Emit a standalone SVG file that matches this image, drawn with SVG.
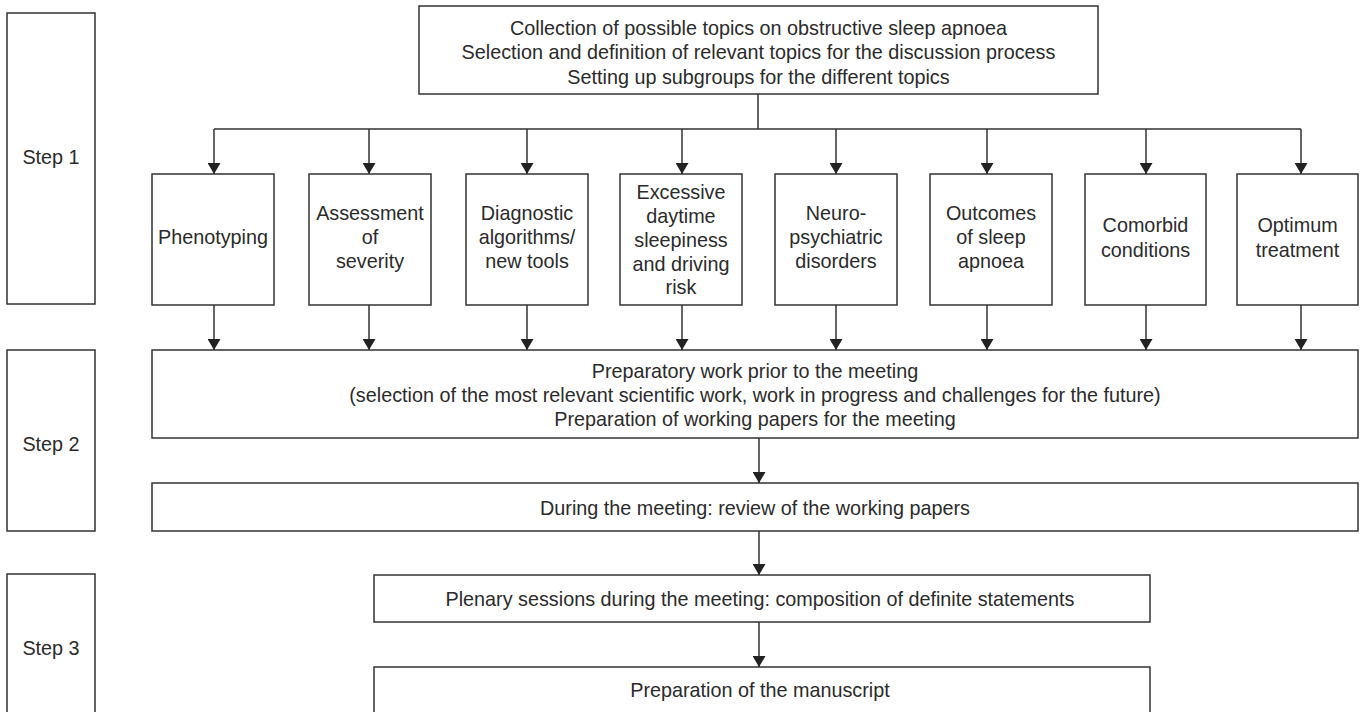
<svg xmlns="http://www.w3.org/2000/svg" width="1365" height="712" viewBox="0 0 1365 712">
<style>
.box{fill:#fff;stroke:#333;stroke-width:1.5}
.t{font-family:"Liberation Sans",Arial,sans-serif;font-size:19.8px;fill:#2b2b2b;text-anchor:middle}
.c{fill:none;stroke:#333;stroke-width:1.5}
</style>
<defs>
<marker id="ah" viewBox="0 0 11 13" refX="11" refY="6.5" markerWidth="11" markerHeight="13" markerUnits="userSpaceOnUse" orient="auto">
<path d="M0,0 L11,6.5 L0,13 z" fill="#222"/>
</marker>
</defs>
<rect width="1365" height="712" fill="#fff"/>

<g id="step1"><rect class="box" x="7" y="13" width="88" height="291"/><text class="t" x="51" y="164">Step 1</text></g>
<g id="step2"><rect class="box" x="7" y="350" width="88" height="181"/><text class="t" x="51" y="451">Step 2</text></g>
<g id="step3"><rect class="box" x="7" y="574" width="88" height="150"/><text class="t" x="51" y="655">Step 3</text></g>

<g id="top"><rect class="box" x="419" y="6" width="679" height="88"/>
<text class="t" x="758.5" y="34.5">Collection of possible topics on obstructive sleep apnoea</text>
<text class="t" x="758.5" y="59">Selection and definition of relevant topics for the discussion process</text>
<text class="t" x="758.5" y="83.5">Setting up subgroups for the different topics</text></g>

<g id="t1"><rect class="box" x="152" y="174" width="122" height="131"/><text class="t" x="213" y="244">Phenotyping</text></g>
<g id="t2"><rect class="box" x="309" y="174" width="122" height="131"/><text class="t" x="370" y="220">Assessment</text><text class="t" x="370" y="244">of</text><text class="t" x="370" y="268">severity</text></g>
<g id="t3"><rect class="box" x="466" y="174" width="122" height="131"/><text class="t" x="527" y="220">Diagnostic</text><text class="t" x="527" y="244">algorithms/</text><text class="t" x="527" y="268">new tools</text></g>
<g id="t4"><rect class="box" x="620" y="174" width="122" height="131"/><text class="t" x="681" y="198.5">Excessive</text><text class="t" x="681" y="222.5">daytime</text><text class="t" x="681" y="246.5">sleepiness</text><text class="t" x="681" y="270.5">and driving</text><text class="t" x="681" y="294">risk</text></g>
<g id="t5"><rect class="box" x="775" y="174" width="122" height="131"/><text class="t" x="836" y="220">Neuro-</text><text class="t" x="836" y="244">psychiatric</text><text class="t" x="836" y="268">disorders</text></g>
<g id="t6"><rect class="box" x="930" y="174" width="122" height="131"/><text class="t" x="991" y="220">Outcomes</text><text class="t" x="991" y="244">of sleep</text><text class="t" x="991" y="268">apnoea</text></g>
<g id="t7"><rect class="box" x="1085" y="174" width="121" height="131"/><text class="t" x="1145.5" y="232">Comorbid</text><text class="t" x="1145.5" y="256.5">conditions</text></g>
<g id="t8"><rect class="box" x="1237" y="174" width="121" height="131"/><text class="t" x="1297.5" y="232">Optimum</text><text class="t" x="1297.5" y="256.5">treatment</text></g>

<g id="prep"><rect class="box" x="152" y="350" width="1206" height="88"/>
<text class="t" x="755" y="377.5">Preparatory work prior to the meeting</text>
<text class="t" x="755" y="401.5">(selection of the most relevant scientific work, work in progress and challenges for the future)</text>
<text class="t" x="755" y="425.5">Preparation of working papers for the meeting</text></g>
<g id="during"><rect class="box" x="152" y="483" width="1206" height="48"/><text class="t" x="755" y="514.5">During the meeting: review of the working papers</text></g>
<g id="plenary"><rect class="box" x="374" y="575" width="776" height="47"/><text class="t" x="760" y="605.5">Plenary sessions during the meeting: composition of definite statements</text></g>
<g id="manuscript"><rect class="box" x="374" y="667" width="776" height="60"/><text class="t" x="760" y="697">Preparation of the manuscript</text></g>

<g id="connectors">
<path class="c" d="M758,94 V129 M214,129 H1301"/>
<path class="c" marker-end="url(#ah)" d="M214,129 V174"/>
<path class="c" marker-end="url(#ah)" d="M369,129 V174"/>
<path class="c" marker-end="url(#ah)" d="M527,129 V174"/>
<path class="c" marker-end="url(#ah)" d="M682,129 V174"/>
<path class="c" marker-end="url(#ah)" d="M836,129 V174"/>
<path class="c" marker-end="url(#ah)" d="M987,129 V174"/>
<path class="c" marker-end="url(#ah)" d="M1146,129 V174"/>
<path class="c" marker-end="url(#ah)" d="M1301,129 V174"/>
<path class="c" marker-end="url(#ah)" d="M214,305 V350"/>
<path class="c" marker-end="url(#ah)" d="M369,305 V350"/>
<path class="c" marker-end="url(#ah)" d="M527,305 V350"/>
<path class="c" marker-end="url(#ah)" d="M682,305 V350"/>
<path class="c" marker-end="url(#ah)" d="M836,305 V350"/>
<path class="c" marker-end="url(#ah)" d="M987,305 V350"/>
<path class="c" marker-end="url(#ah)" d="M1146,305 V350"/>
<path class="c" marker-end="url(#ah)" d="M1301,305 V350"/>
<path class="c" marker-end="url(#ah)" d="M759,438 V483"/>
<path class="c" marker-end="url(#ah)" d="M759,531 V575"/>
<path class="c" marker-end="url(#ah)" d="M759,622 V667"/>
</g>
</svg>
